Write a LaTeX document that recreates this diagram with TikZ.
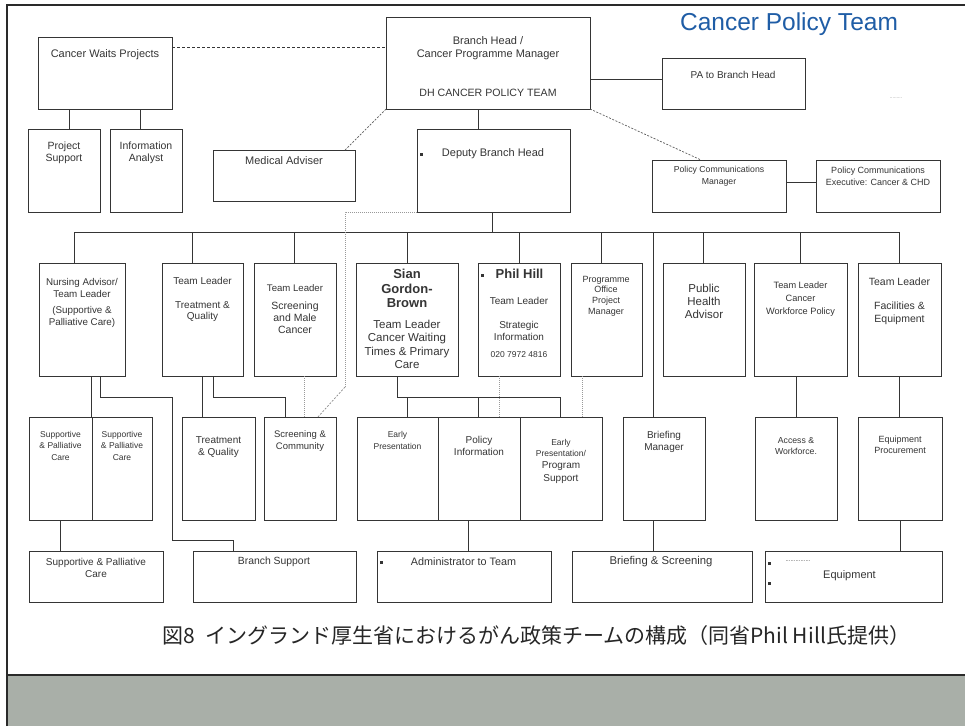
\documentclass[tikz,border=0pt]{standalone}
\usepackage{fontspec}
\setmainfont{Liberation Sans}
\newfontfamily\jpfont{Noto Sans CJK JP}
\definecolor{ink}{HTML}{353535}
\definecolor{titleblue}{HTML}{1F5DA6}
\definecolor{bandc}{HTML}{A9AFA8}
\definecolor{framec}{HTML}{2A2A2A}
\newcommand\fsz[2]{\fontsize{#1}{#2}\selectfont}
\newcommand\bx[5]{\node[box, minimum width={#4-#2}, minimum height={#5-#3}] (#1) at ({(#2+#4)/2},{(#3+#5)/2}) {};}
\begin{document}
\begin{tikzpicture}[x=1pt,y=-1pt,
 box/.style={draw=ink, line width=0.9pt, inner sep=0pt, outer sep=0pt},
 lbl/.style={inner sep=0pt, align=center, text=ink},
 link/.style={draw=ink, line width=0.9pt},
 dlink/.style={draw=ink, line width=0.8pt, dash pattern=on 3pt off 2pt},
 flink/.style={draw=ink!80, line width=0.7pt, dash pattern=on 2pt off 1.5pt},
 dotlink/.style={draw=black!40, line width=0.7pt, dash pattern=on 0.8pt off 1.2pt},
 bul/.style={fill=ink, inner sep=0pt, minimum size=3pt},
]
\useasboundingbox (0,0) rectangle (965,726);
\fill[white] (0,0) rectangle (965,726);
\fill[bandc] (7,675) rectangle (965,726);
\draw[framec, line width=2pt] (7,726) -- (7,5) -- (965,5);
\draw[framec, line width=2pt] (7,675) -- (965,675);

% boxes
\bx{cwp}{38}{37}{172}{109}
\bx{bh}{386}{17}{590}{109}
\bx{pa}{662}{58}{805}{109}
\bx{ps}{28}{129}{100}{212}
\bx{ia}{110}{129}{182}{212}
\bx{ma}{213}{150}{355}{201}
\bx{dep}{417}{129}{570}{212}
\bx{pcm}{652}{160}{786}{212}
\bx{pce}{816}{160}{940}{212}
\bx{nurse}{39}{263}{125}{376}
\bx{tltq}{162}{263}{243}{376}
\bx{tlsc}{254}{263}{336}{376}
\bx{sian}{356}{263}{458}{376}
\bx{phil}{478}{263}{560}{376}
\bx{prog}{571}{263}{642}{376}
\bx{pha}{663}{263}{745}{376}
\bx{tlwf}{754}{263}{847}{376}
\bx{tlfe}{858}{263}{941}{376}
\bx{sp1}{29}{417}{92}{520}
\bx{sp2}{92}{417}{152}{520}
\bx{tq}{182}{417}{255}{520}
\bx{scom}{264}{417}{336}{520}
\bx{ep}{357}{417}{438}{520}
\bx{pi}{438}{417}{520}{520}
\bx{epp}{520}{417}{602}{520}
\bx{bm}{623}{417}{705}{520}
\bx{aw}{755}{417}{837}{520}
\bx{eqp}{858}{417}{942}{520}
\bx{spc}{29}{551}{163}{602}
\bx{bs}{193}{551}{356}{602}
\bx{adm}{377}{551}{551}{602}
\bx{bas}{572}{551}{752}{602}
\bx{eq}{765}{551}{942}{602}

% named junctions
\coordinate (busL) at (74,232);
\coordinate (busR) at (899,232);
\coordinate (jrow) at (0,397);
\coordinate (jbr) at (0,540);
\coordinate (dA) at (345,212);
\coordinate (dB) at (345,387);

% top connectors
\draw[dlink] (cwp.east |- 0,47) -- (bh.west |- 0,47);
\draw[link] (69,0 |- cwp.south) -- (69,0 |- ps.north);
\draw[link] (140,0 |- cwp.south) -- (140,0 |- ia.north);
\draw[flink] (bh.south west) -- (345,0 |- ma.north);
\draw[link] (bh.east |- 0,79) -- (pa.west |- 0,79);
\draw[link] (478,0 |- bh.south) -- (478,0 |- dep.north);
\draw[flink] (bh.south east) -- (701,0 |- pcm.north);
\draw[link] (pcm.east |- 0,182) -- (pce.west |- 0,182);

% bus
\draw[link] (busL) -- (busR);
\draw[link] (492,0 |- dep.south) -- (busL -| 492,0);
\foreach \n/\x in {nurse/74, tltq/192, tlsc/294, sian/407, phil/519, prog/601, pha/703, tlwf/800, tlfe/899}
  \draw[link] (busL -| \x,0) -- (\n.north -| \x,0);
\draw[link] (busL -| 653,0) -- (bm.north -| 653,0);

% dotted from deputy
\draw[dotlink] (dep.south west) -- (dA) -- (dB);
\draw[flink, draw=black!45] (dB) -- (318,0 |- scom.north);

% lower connectors
\draw[link] (91,0 |- nurse.south) -- (91,0 |- sp1.north);
\draw[link] (100,0 |- nurse.south) |- (jrow -| 172,0) -- (jbr -| 172,0) -| (233,0 |- bs.north);
\draw[link] (202,0 |- tltq.south) -- (202,0 |- tq.north);
\draw[link] (213,0 |- tltq.south) |- (jrow -| 285,0) -- (285,0 |- scom.north);
\draw[dotlink] (304,0 |- tlsc.south) -- (304,0 |- scom.north);
\draw[link] (397,0 |- sian.south) |- (jrow -| 560,0) -- (560,0 |- epp.north);
\draw[link] (jrow -| 407,0) -- (407,0 |- ep.north);
\draw[link] (jrow -| 478,0) -- (478,0 |- pi.north);
\draw[dotlink] (499,0 |- phil.south) -- (499,0 |- pi.north);
\draw[dotlink] (582,0 |- prog.south) -- (582,0 |- epp.north);
\draw[link] (468,0 |- pi.south) -- (468,0 |- adm.north);
\draw[link] (653,0 |- bm.south) -- (653,0 |- bas.north);
\draw[link] (796,0 |- tlwf.south) -- (796,0 |- aw.north);
\draw[link] (899,0 |- tlfe.south) -- (899,0 |- eqp.north);
\draw[link] (900,0 |- eqp.south) -- (900,0 |- eq.north);
\draw[link] (60,0 |- sp1.south) -- (60,0 |- spc.north);

% texts
\node[lbl, font=\fsz{24.5}{27}, text=titleblue] (title) at (789,24) {Cancer Policy Team};
\node[lbl, font=\fsz{11}{13}] (cwpT) at (105,55) {Cancer Waits Projects};
\node[lbl, font=\fsz{11}{13}] (bhT1) at (488,48.5) {Branch Head /\\Cancer Programme Manager};
\node[lbl, font=\fsz{10.6}{13}] (bhT2) at (488,93) {DH CANCER POLICY TEAM};
\node[lbl, font=\fsz{10}{12}] (paT) at (733,75) {PA to Branch Head};
\node[lbl, font=\fsz{5}{6}, text=black!45] (dots2) at (896,98) {.........};
\node[lbl, font=\fsz{10.5}{12}] (psT) at (64,153) {Project\\Support};
\node[lbl, font=\fsz{10.5}{12}] (iaT) at (146,153) {Information\\Analyst};
\node[lbl, font=\fsz{11}{13}] (maT) at (284,161) {Medical Adviser};
\node[lbl, font=\fsz{11}{13}] (depT) at (493,154) {Deputy Branch Head};
\node[bul] (depB) at (421,154) {};
\node[lbl, font=\fsz{8.7}{12}] (pcmT) at (719,176) {Policy Communications\\Manager};
\node[lbl, font=\fsz{9}{12}] (pceT) at (878,176) {Policy Communications\\Executive: Cancer \& CHD};

\node[lbl, anchor=north, font=\fsz{9.8}{12}] (nurseT) at (82,278) {Nursing Advisor/\\Team Leader\\[4pt](Supportive \&\\Palliative Care)};
\node[lbl, anchor=north, font=\fsz{10}{11.5}] (tltqT) at (202.5,277) {Team Leader\\[12.5pt]Treatment \&\\Quality};
\node[lbl, anchor=north, font=\fsz{10.5}{12}] (tlscT) at (295,284) {{\fsz{9.6}{12}Team Leader}\\[6pt]Screening\\and Male\\Cancer};
\node[lbl, anchor=north, font=\bfseries\fsz{13}{14.5}] (sianT1) at (407,269) {Sian\\Gordon-\\Brown};
\node[lbl, anchor=north, font=\fsz{11.5}{13.3}] (sianT2) at (407,320) {Team Leader\\Cancer Waiting\\Times \& Primary\\Care};
\node[lbl, font=\bfseries\fsz{13}{14.5}] (philT1) at (519.5,274) {Phil Hill};
\node[bul] (philB) at (482,275) {};
\node[lbl, anchor=north, font=\fsz{10}{12}] (philT2) at (519,297) {Team Leader\\[12pt]Strategic\\Information};
\node[lbl, font=\fsz{8.5}{10}] (philT3) at (519,355) {020 7972 4816};
\node[lbl, anchor=north, font=\fsz{9}{10.6}] (progT) at (606,276) {Programme\\Office\\Project\\Manager};
\node[lbl, anchor=north, font=\fsz{11.5}{13}] (phaT) at (704,284) {Public\\Health\\Advisor};
\node[lbl, anchor=north, font=\fsz{9.2}{13}] (tlwfT) at (800.5,282) {Team Leader\\Cancer\\Workforce Policy};
\node[lbl, anchor=north, font=\fsz{10.5}{13}] (tlfeT) at (899.5,278) {Team Leader\\[11pt]Facilities \&\\Equipment};

\node[lbl, anchor=north, font=\fsz{8.5}{11.5}] (sp1T) at (60.5,431) {Supportive\\ \& Palliative\\ Care};
\node[lbl, anchor=north, font=\fsz{8.5}{11.5}] (sp2T) at (122,431) {Supportive\\ \& Palliative\\ Care};
\node[lbl, anchor=north, font=\fsz{10}{12}] (tqT) at (218.5,436.5) {Treatment\\ \& Quality};
\node[lbl, anchor=north, font=\fsz{9.5}{12}] (scomT) at (300,430.5) {Screening \&\\Community};
\node[lbl, anchor=north, font=\fsz{8.5}{12}] (epT) at (397.5,431) {Early\\Presentation};
\node[lbl, anchor=north, font=\fsz{10}{12}] (piT) at (479,436.5) {Policy\\Information};
\node[lbl, anchor=north, font=\fsz{8.5}{11}] (eppT1) at (561,439) {Early\\Presentation/};
\node[lbl, anchor=north, font=\fsz{10}{13}] (eppT2) at (561,461.5) {Program\\Support};
\node[lbl, anchor=north, font=\fsz{10}{11.5}] (bmT) at (664,431.5) {Briefing\\Manager};
\node[lbl, anchor=north, font=\fsz{8.7}{11}] (awT) at (796,437.5) {Access \&\\Workforce.};
\node[lbl, anchor=north, font=\fsz{9}{11}] (eqpT) at (900,435.5) {Equipment\\Procurement};

\node[lbl, anchor=north, font=\fsz{10}{12}] (spcT) at (96,558) {Supportive \& Palliative\\Care};
\node[lbl, font=\fsz{10.4}{12}] (bsT) at (274,562) {Branch Support};
\node[lbl, font=\fsz{10.8}{12}] (admT) at (463.5,562) {Administrator to Team};
\node[bul] (admB) at (381,562) {};
\node[lbl, font=\fsz{11.3}{13}] (basT) at (661,562) {Briefing \& Screening};
\node[lbl, font=\fsz{11}{13}] (eqT) at (849.5,576) {Equipment};
\node[bul] (eqB1) at (769,563) {};
\node[bul] (eqB2) at (769,583) {};
\node[lbl, font=\fsz{6}{7}] (eqDots) at (798,561) {...............};

\node[lbl, font=\jpfont\fsz{21}{25}, text=black!85] (caption) at (536,636) {図8\hspace{0.5em}イングランド厚生省におけるがん政策チームの構成（同省Phil Hill氏提供）};
\end{tikzpicture}
\end{document}
